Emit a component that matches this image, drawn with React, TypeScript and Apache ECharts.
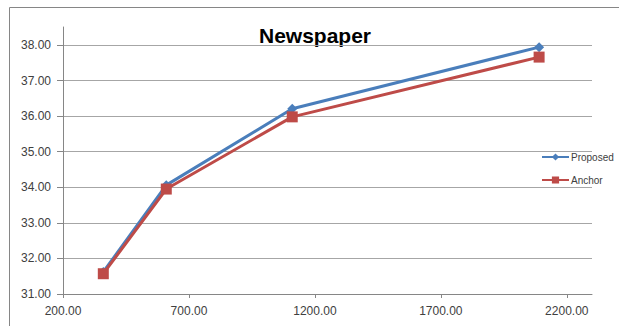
import React, { useEffect, useRef } from "react";
import * as echarts from "echarts";

// Bitrate points (x) and PSNR values for each codec configuration
const bitrates = [360, 610, 1110, 2090];
const proposed = [31.62, 34.06, 36.21, 37.94];
const anchor = [31.57, 33.95, 35.98, 37.66];

const xTicks = { min: 200, max: 2300, interval: 500 };
const yTicks = { min: 31, max: 38, interval: 1 };

const FONT = "'Liberation Sans', Arial, sans-serif";
const LABEL_COLOR = "#404040";
const AXIS_COLOR = "#868686";

export default function App() {
  const ref = useRef<HTMLDivElement>(null);

  useEffect(() => {
    if (!ref.current) return;
    const chart = echarts.init(ref.current, undefined, { renderer: "svg" });

    const pairs = (vals: number[]) => bitrates.map((b, i) => [b, vals[i]]);

    chart.setOption({
      animation: false,
      backgroundColor: "#ffffff",
      legend: {
        orient: "vertical",
        left: 541,
        top: 152,
        padding: 0,
        itemWidth: 27,
        itemHeight: 9,
        itemGap: 13,
        textStyle: { fontFamily: FONT, fontSize: 10, color: LABEL_COLOR, padding: [0, 0, 0, -3] },
        data: ["Proposed", "Anchor"],
      },
      grid: [
        { left: 63, right: 27, top: 45, bottom: 32 },
        { left: 63, right: 27, top: 27, bottom: 32 },
      ],
      xAxis: [
        {
          type: "value",
          gridIndex: 0,
          min: xTicks.min,
          max: xTicks.max,
          interval: xTicks.interval,
          axisLine: { show: true, lineStyle: { color: AXIS_COLOR, width: 1 } },
          axisTick: { show: true, length: 4, lineStyle: { color: AXIS_COLOR } },
          splitLine: { show: false },
          axisLabel: {
            margin: 11,
            showMaxLabel: false,
            fontFamily: FONT,
            fontSize: 12,
            color: LABEL_COLOR,
            formatter: (v: number) => v.toFixed(2),
          },
        },
        { type: "value", gridIndex: 1, show: false, min: 0, max: 1 },
      ],
      yAxis: [
        {
          type: "value",
          gridIndex: 0,
          min: yTicks.min,
          max: yTicks.max,
          interval: yTicks.interval,
          axisLine: { show: false },
          axisTick: { show: true, length: 6, lineStyle: { color: AXIS_COLOR } },
          splitLine: { show: true, lineStyle: { color: "#a6a6a6", width: 1 } },
          axisLabel: {
            margin: 12,
            fontFamily: FONT,
            fontSize: 12,
            color: LABEL_COLOR,
            formatter: (v: number) => v.toFixed(2),
          },
        },
        {
          type: "value",
          gridIndex: 1,
          min: 0,
          max: 1,
          axisLine: { show: true, lineStyle: { color: AXIS_COLOR, width: 1 } },
          axisTick: { show: false },
          axisLabel: { show: false },
          splitLine: { show: false },
        },
      ],
      graphic: [
        {
          type: "rect",
          shape: { x: 9.5, y: 7.5, width: 640, height: 400 },
          style: { fill: "none", stroke: AXIS_COLOR, lineWidth: 1 },
          silent: true,
        },
        {
          type: "text",
          x: 315,
          y: 35,
          silent: true,
          style: {
            text: "Newspaper",
            fontFamily: FONT,
            fontWeight: "bold",
            fontSize: 21,
            fill: "#000000",
            align: "center",
            verticalAlign: "middle",
          },
        },
      ],
      series: [
        {
          name: "Proposed",
          type: "line",
          xAxisIndex: 0,
          yAxisIndex: 0,
          data: pairs(proposed),
          symbol: "diamond",
          symbolSize: 10,
          color: "#4a7ebb",
          lineStyle: { width: 3, color: "#4a7ebb" },
          itemStyle: { color: "#4a7ebb" },
        },
        {
          name: "Anchor",
          type: "line",
          xAxisIndex: 0,
          yAxisIndex: 0,
          data: pairs(anchor),
          symbol: "rect",
          symbolSize: 11,
          color: "#be4b48",
          lineStyle: { width: 3, color: "#be4b48" },
          itemStyle: { color: "#be4b48" },
        },
      ],
    });

    return () => chart.dispose();
  }, []);

  return (
    <div
      ref={ref}
      style={{ position: "absolute", left: 0, top: 0, width: 619, height: 326 }}
    />
  );
}
